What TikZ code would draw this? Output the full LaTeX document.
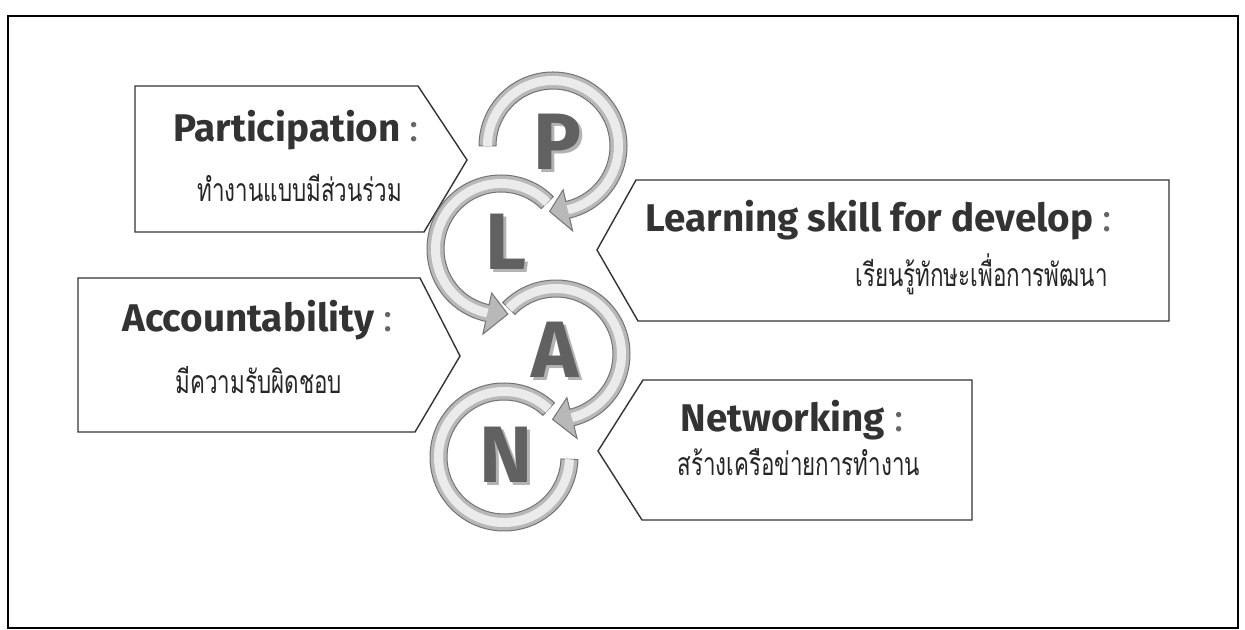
\documentclass[tikz,border=0pt]{standalone}
\usepackage{fontspec}
\setmainfont{Fira Sans}
\newfontfamily\thaifont[Script=Thai, FakeStretch=0.7]{Loma}
\usetikzlibrary{calc,positioning}

% ring with an arrow head: centre, start angle, shaft end, tip angle
\newcommand{\arrowring}[4]{%
  \draw[ringbody] ($(#1)+(#2:74)$) arc[start angle=#2, end angle=#3, radius=37pt]
    -- ($(#1)+(#3:87)$) -- ($(#1)+(#4:65.5)$) -- ($(#1)+(#3:45)$)
    -- ($(#1)+(#3:57)$) arc[start angle=#3, end angle=#2, radius=28.5pt] -- cycle;
  \draw[ringshine] ($(#1)+(#2:65.5)$) arc[start angle=#2, end angle=#3, radius=32.75pt];
}

\begin{document}
\begin{tikzpicture}[
  x=0.5pt, y=0.5pt,
  boxline/.style={draw=black!80, line width=0.7pt, fill=white},
  ringbody/.style={draw=black!55, line width=0.5pt, fill=black!28},
  ringshine/.style={draw=black!8, line width=4.5pt},
  headtext/.style={font=\fontsize{19.3}{22}\selectfont\bfseries, text=black!80, inner sep=0pt},
  thaitext/.style={font=\thaifont\fontsize{16}{19}\selectfont, text=black!85, inner sep=0pt},
  planletter/.style={font=\fontsize{40}{44}\selectfont\bfseries, text=black!62, inner sep=0pt},
  planshadow/.style={font=\fontsize{40}{44}\selectfont\bfseries, text=black!30, inner sep=0pt}
]
\useasboundingbox (0,0) rectangle (1245,630);
\draw[line width=1pt] (8,614) rectangle (1238,2);

% boxes
\draw[boxline] (135,544) -- (418,544) -- (467,470) -- (424,398) -- (135,398) -- cycle;
\draw[boxline] (636,450) -- (1169,450) -- (1169,309) -- (638,309) -- (597,380) -- cycle;
\draw[boxline] (78,352) -- (420,352) -- (460,274) -- (415,198) -- (78,198) -- cycle;
\draw[boxline] (643,250) -- (972,250) -- (972,110) -- (642,110) -- (598,179) -- cycle;

% rings
\coordinate (cP) at (553,484);
\coordinate (cL) at (501,381);
\coordinate (cA) at (556,276);
\coordinate (cN) at (504,173);

\arrowring{cP}{180}{-77}{-93}
\arrowring{cL}{45}{258}{276}
\arrowring{cA}{136}{-76}{-93}
\draw[ringbody] ($(cN)+(47:74)$) arc[start angle=47, end angle=358, radius=37pt]
  -- ($(cN)+(358:57)$) arc[start angle=358, end angle=47, radius=28.5pt] -- cycle;
\draw[ringshine] ($(cN)+(47:65.5)$) arc[start angle=47, end angle=358, radius=32.75pt];

% letters
\node[planshadow] at (560,485) {P};
\node[planletter] (letP) at (557,488) {P};
\node[planshadow] at (509,385) {L};
\node[planletter] (letL) at (506,388) {L};
\node[planshadow] at (558,277) {A};
\node[planletter] (letA) at (555,280) {A};
\node[planshadow] at (509,172) {N};
\node[planletter] (letN) at (506,175) {N};

% texts
\node[headtext, anchor=base west] (parthead) at (173,488) {Participation {\mdseries\color{black!60}:}};
\node[thaitext, anchor=base west] (partthai) at (197,428) {ทำงานแบบมีส่วนร่วม};
\node[headtext, anchor=base east] (learnhead) at (1112,398) {Learning skill for develop {\mdseries\color{black!60}:}};
\node[thaitext, anchor=base east] (learnthai) at (1108,343) {เรียนรู้ทักษะเพื่อการพัฒนา};
\node[headtext, anchor=base west] (acchead) at (122,298) {Accountability {\mdseries\color{black!60}:}};
\node[thaitext, anchor=base west] (accthai) at (175,236) {มีความรับผิดชอบ};
\node[headtext, anchor=base west] (nethead) at (680,198) {Networking {\mdseries\color{black!60}:}};
\node[thaitext, anchor=base west] (netthai) at (677,154) {สร้างเครือข่ายการทำงาน};
\end{tikzpicture}
\end{document}
